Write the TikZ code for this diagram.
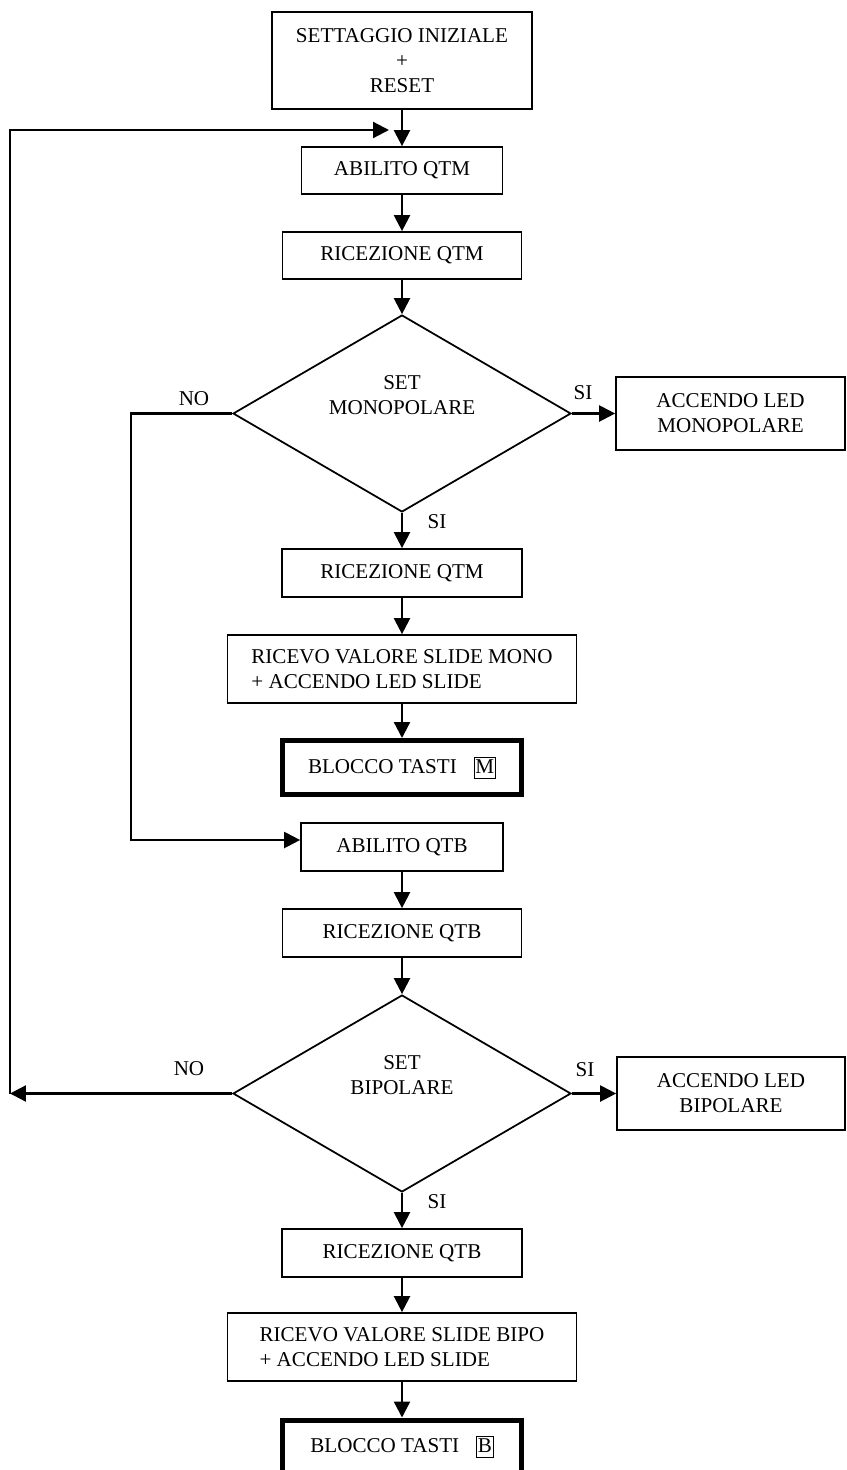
\documentclass[tikz,border=0pt]{standalone}
\usepackage{fontspec}
\setmainfont{Liberation Serif}
\usetikzlibrary{shapes.geometric,arrows.meta}
\newcommand{\keybox}[1]{{\setlength{\fboxsep}{0.6pt}\fbox{\rule[-2pt]{0pt}{10.5pt}#1}}}

\begin{document}
\begin{tikzpicture}[x=0.02cm,y=-0.02cm,
	procbox/.style={draw,line width=1pt,inner sep=0pt,align=center,font=\fontsize{12}{14.2}\selectfont},
	lockbox/.style={procbox,line width=2.85pt,minimum width=4.8cm,minimum height=1.08cm},
	choice/.style={draw,diamond,line width=1pt,inner sep=0pt,minimum width=6.76cm,minimum height=3.94cm},
	tag/.style={inner sep=0pt,align=center,font=\fontsize{12}{14.2}\selectfont},
	flow/.style={line width=1.3pt,-{Triangle[length=0.32cm,width=0.32cm]}}]
	\useasboundingbox (0,0) rectangle (846,1470);

	% ramo monopolare
	\node[procbox,minimum width=5.2cm,minimum height=1.94cm] (init) at (402,60.5) {SETTAGGIO INIZIALE\\+\\RESET};
	\node[procbox,minimum width=4.02cm,minimum height=0.94cm] (abqtm) at (402,170.5) {ABILITO QTM};
	\node[procbox,minimum width=4.78cm,minimum height=0.94cm] (ricqtm) at (402,255.5) {RICEZIONE QTM};
	\node[choice] (d1) at (402,413.5) {};
	\node[tag] (d1t) at (402,395) {SET\\MONOPOLARE};
	\node[procbox,minimum width=4.58cm,minimum height=1.46cm] (ledm) at (730.5,413.5) {ACCENDO LED\\MONOPOLARE};
	\node[procbox,minimum width=4.8cm,minimum height=0.96cm] (ricqtm2) at (402,573) {RICEZIONE QTM};
	\node[procbox,align=left,minimum width=6.98cm,minimum height=1.36cm] (valm) at (402,669) {RICEVO VALORE SLIDE MONO\\+ ACCENDO LED SLIDE};
	\node[lockbox] (blkm) at (402,767.5) {BLOCCO TASTI\hspace{0.8em}\keybox{M}};

	% ramo bipolare
	\node[procbox,minimum width=4.04cm,minimum height=0.96cm] (abqtb) at (402,847) {ABILITO QTB};
	\node[procbox,minimum width=4.78cm,minimum height=0.96cm] (ricqtb) at (402,933) {RICEZIONE QTB};
	\node[choice] (d2) at (402,1093.5) {};
	\node[tag] (d2t) at (402,1075) {SET\\BIPOLARE};
	\node[procbox,minimum width=4.56cm,minimum height=1.46cm] (ledb) at (731,1093.5) {ACCENDO LED\\BIPOLARE};
	\node[procbox,minimum width=4.8cm,minimum height=0.96cm] (ricqtb2) at (402,1253) {RICEZIONE QTB};
	\node[procbox,align=left,minimum width=6.98cm,minimum height=1.36cm] (valb) at (402,1347) {RICEVO VALORE SLIDE BIPO\\+ ACCENDO LED SLIDE};
	\node[lockbox] (blkb) at (402,1447) {BLOCCO TASTI\hspace{0.8em}\keybox{B}};

	\node[tag] (no1) at (194,399) {NO};
	\node[tag] (si1r) at (583,393) {SI};
	\node[tag] (si1b) at (437,522) {SI};
	\node[tag] (no2) at (189,1069) {NO};
	\node[tag] (si2r) at (585,1070) {SI};
	\node[tag] (si2b) at (437,1202) {SI};

	\coordinate (nob) at (131,840);
	\coordinate (lb) at (10,1093.5);
	\coordinate (lt) at (10,130);
	\coordinate (le) at (389,130);

	\draw[flow] (init.south) -- (abqtm.north);
	\draw[flow] (abqtm.south) -- (ricqtm.north);
	\draw[flow] (ricqtm.south) -- (d1.north);
	\draw[flow] (d1.east) -- (ledm.west);
	\draw[flow] (d1.south) -- (ricqtm2.north);
	\draw[flow] (ricqtm2.south) -- (valm.north);
	\draw[flow] (valm.south) -- (blkm.north);
	\draw[flow] (d1.west) -| (nob) -- (nob -| abqtb.west);

	\draw[flow] (abqtb.south) -- (ricqtb.north);
	\draw[flow] (ricqtb.south) -- (d2.north);
	\draw[flow] (d2.east) -- (ledb.west);
	\draw[flow] (d2.south) -- (ricqtb2.north);
	\draw[flow] (ricqtb2.south) -- (valb.north);
	\draw[flow] (valb.south) -- (blkb.north);
	\draw[flow] (d2.west) -- (lb);
	\draw[flow] (lb) -- (lt) -- (le);
\end{tikzpicture}
\end{document}
